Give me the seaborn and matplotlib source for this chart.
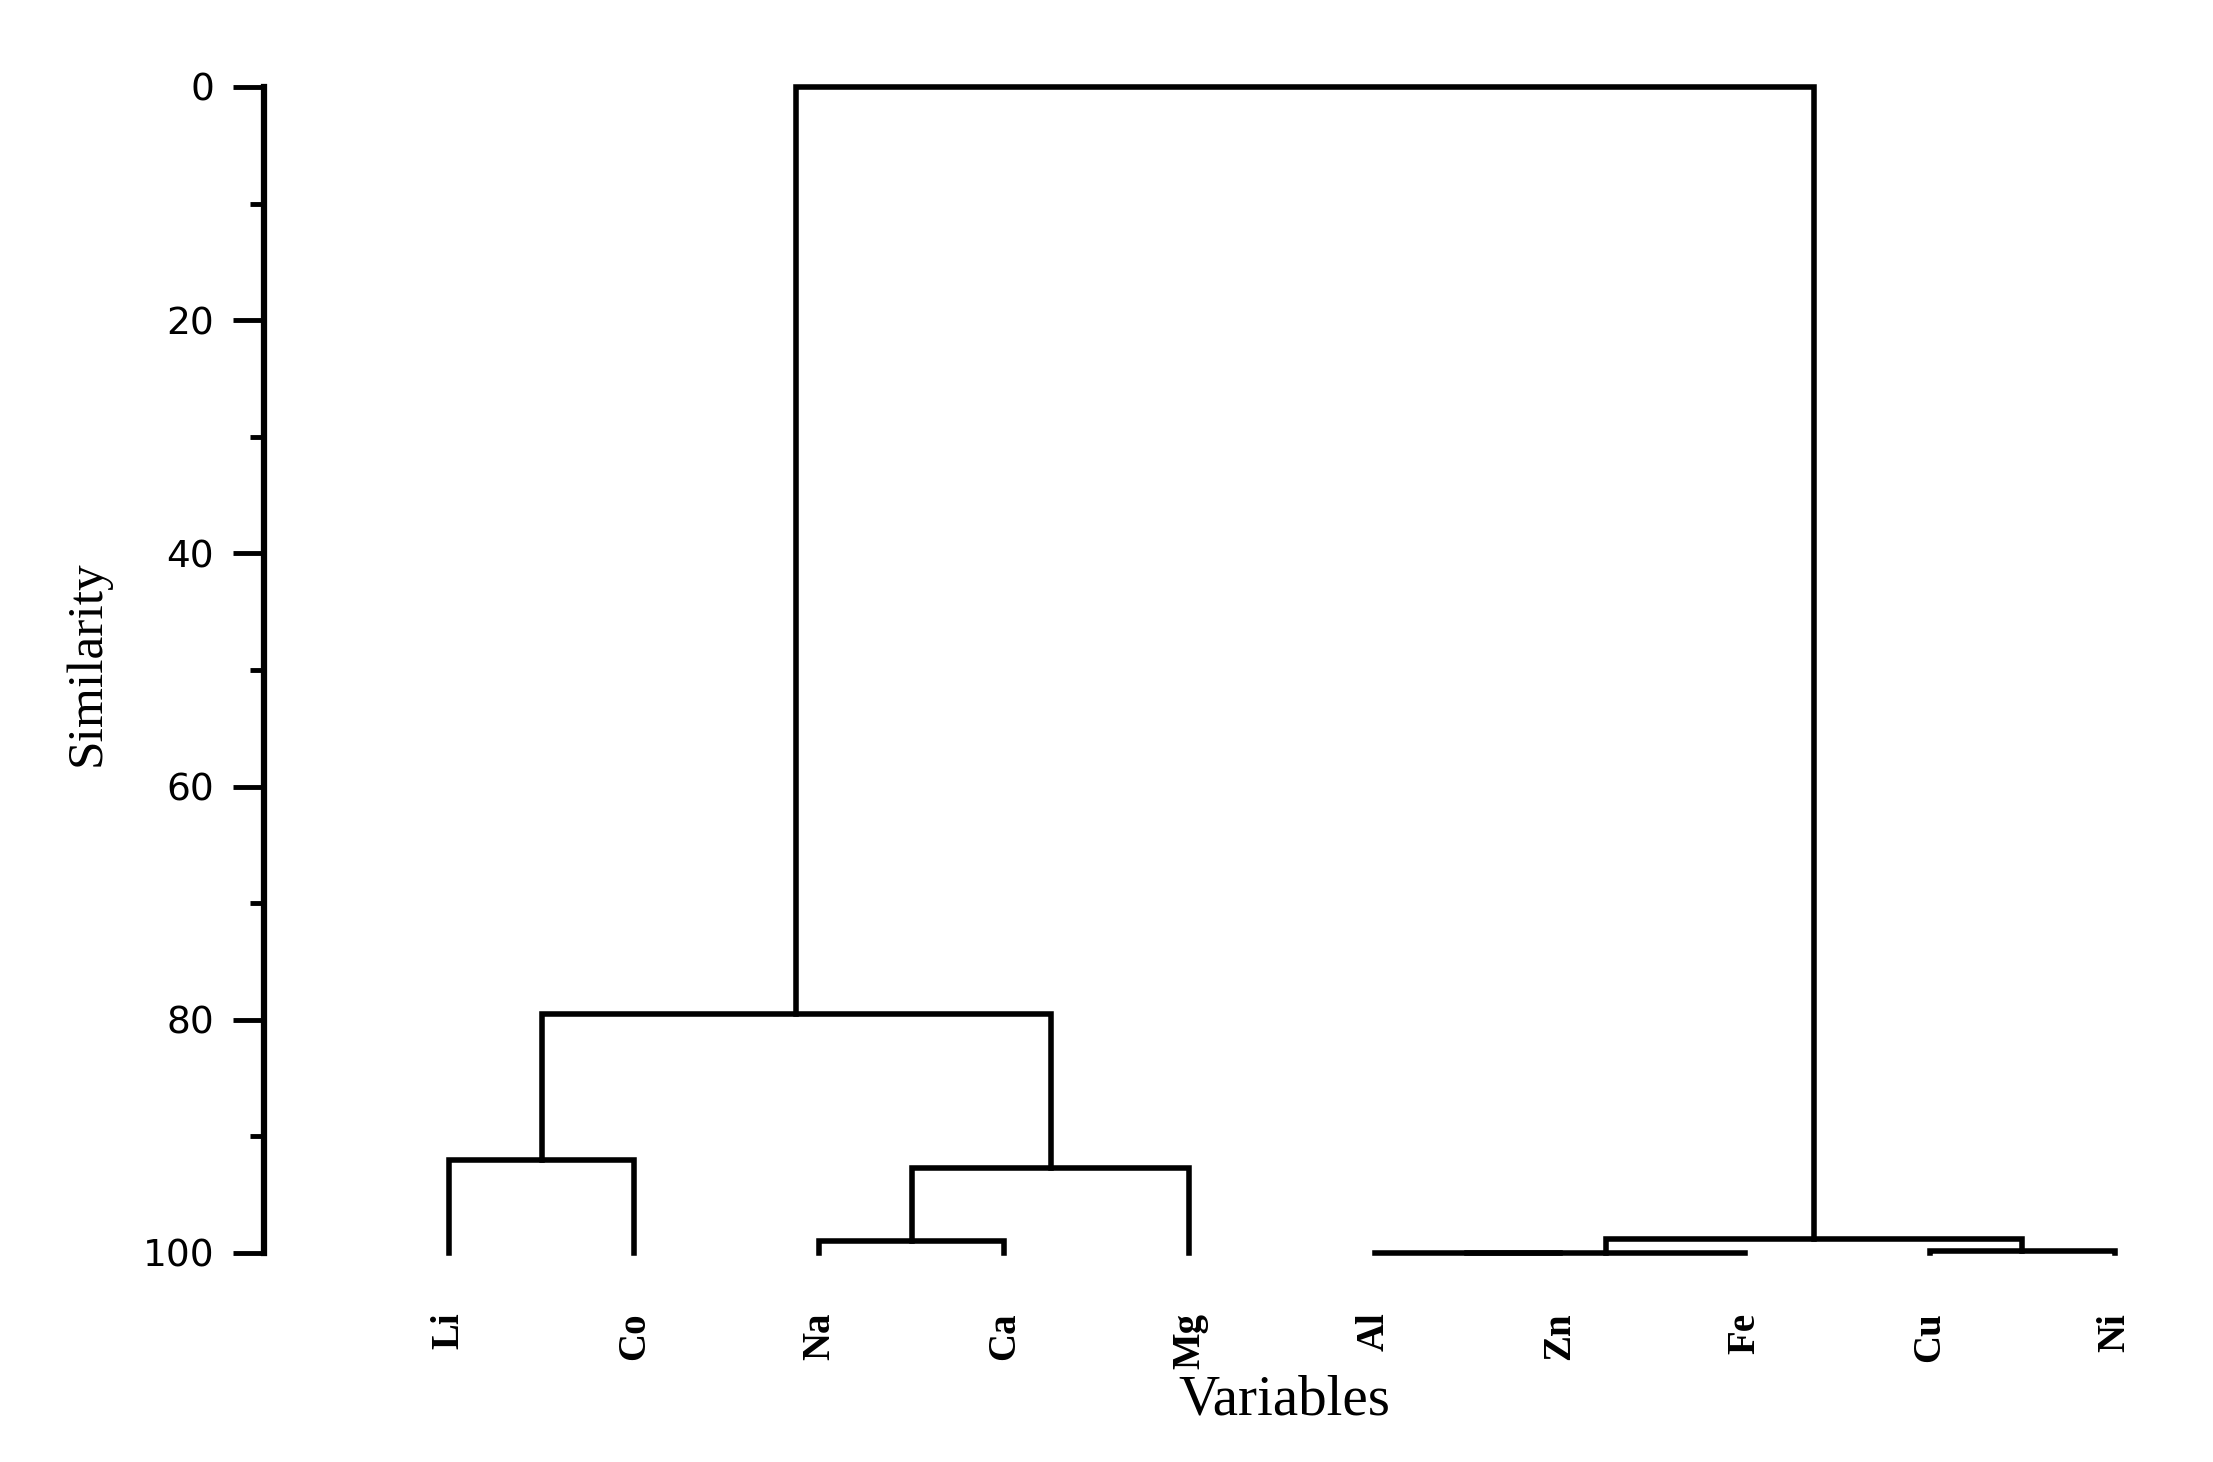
import matplotlib
matplotlib.use("Agg")
import matplotlib.pyplot as plt
from matplotlib.ticker import MultipleLocator
import seaborn as sns
import pandas as pd

# leaf order along the x axis
leaves = ['Li', 'Co', 'Na', 'Ca', 'Mg', 'Al', 'Zn', 'Fe', 'Cu', 'Ni']

# merges (cluster a + cluster b -> "a-b") and the similarity where they join
merge_a = ['Li', 'Na', 'Na-Ca', 'Li-Co', 'Al', 'Al-Zn', 'Cu', 'Al-Zn-Fe', 'Li-Co-Na-Ca-Mg']
merge_b = ['Co', 'Ca', 'Mg', 'Na-Ca-Mg', 'Zn', 'Fe', 'Ni', 'Cu-Ni', 'Al-Zn-Fe-Cu-Ni']
similarity = [92.0, 99.0, 92.7, 79.5, 100.0, 100.0, 99.8, 98.8, 0.0]

y_ticks = [0, 20, 40, 60, 80, 100]

# build the U-shaped links
pos = {name: i for i, name in enumerate(leaves)}
level = {name: 100.0 for name in leaves}
rows = []
for k, (a, b, s) in enumerate(zip(merge_a, merge_b, similarity)):
    pts = [(pos[a], level[a]), (pos[a], s), (pos[b], s), (pos[b], level[b])]
    for j, (x, y) in enumerate(pts):
        rows.append({'x': x, 'y': y, 'link': k, 'order': j})
    name = a + '-' + b
    pos[name] = (pos[a] + pos[b]) / 2
    level[name] = s
df = pd.DataFrame(rows)

sns.set_theme(style="ticks")
plt.rcParams['font.family'] = ['DejaVu Sans']
plt.rcParams['text.color'] = 'black'
plt.rcParams['axes.labelcolor'] = 'black'
plt.rcParams['xtick.color'] = 'black'
plt.rcParams['ytick.color'] = 'black'

fig = plt.figure(figsize=(22.13, 14.62), dpi=100)
ax = fig.add_axes([0.1193, 0.143, 0.8782, 0.7975])

sns.lineplot(data=df, x='x', y='y', units='link', estimator=None, sort=False,
             color='black', linewidth=4, ax=ax)
for ln in ax.lines:
    ln.set_clip_on(False)
    ln.set_solid_joinstyle('miter')
    ln.set_solid_capstyle('projecting')

ax.set_ylim(100, 0)
ax.set_xlim(-1.0, 9.5)
ax.set_yticks(y_ticks)
ax.yaxis.set_minor_locator(MultipleLocator(10))
ax.tick_params(axis='y', which='major', length=22, width=3.5, labelsize=27, pad=14,
               color='black', labelcolor='black')
ax.tick_params(axis='y', which='minor', length=10, width=3.5, color='black')

ax.set_xticks(range(len(leaves)))
ax.set_xticklabels(leaves, rotation=90, fontsize=28, fontweight='bold',
                   family=['Liberation Serif', 'DejaVu Serif'], color='black')
ax.tick_params(axis='x', length=0, pad=43)

for side in ['top', 'right', 'bottom']:
    ax.spines[side].set_visible(False)
ax.spines['left'].set_linewidth(4.5)
ax.spines['left'].set_color('black')

ax.set_xlabel('Variables', fontsize=41, color='black', family=['Liberation Serif', 'DejaVu Serif'])
ax.set_ylabel('Similarity', fontsize=37, color='black', family=['Liberation Serif', 'DejaVu Serif'])
ax.xaxis.set_label_coords(0.525, -0.104)
ax.yaxis.set_label_coords(-0.079, 0.506)

fig.savefig('out.png', dpi=100, facecolor='white')
